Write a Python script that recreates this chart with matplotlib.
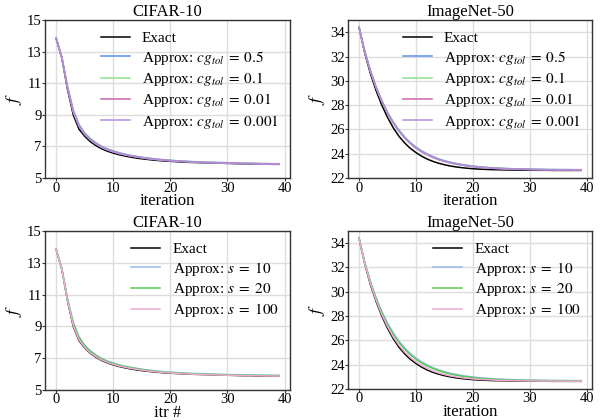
import matplotlib
matplotlib.use("Agg")
import matplotlib.pyplot as plt
import numpy as np

iters = list(range(40))

cifar_exact = [13.85, 12.6, 10.6, 9.0, 8.1, 7.65, 7.3, 7.05, 6.85, 6.7, 6.58, 6.48, 6.4, 6.33, 6.27,
               6.22, 6.18, 6.14, 6.11, 6.08, 6.06, 6.04, 6.02, 6.0, 5.99, 5.98, 5.97, 5.96, 5.95, 5.94,
               5.93, 5.92, 5.91, 5.9, 5.9, 5.89, 5.88, 5.88, 5.87, 5.87]
cifar_cg_05 = [13.85, 12.65, 10.8, 9.3, 8.4, 7.85, 7.5, 7.22, 7.0, 6.84, 6.72, 6.61, 6.52, 6.44, 6.38,
               6.32, 6.27, 6.23, 6.19, 6.16, 6.13, 6.1, 6.08, 6.06, 6.04, 6.03, 6.01, 6.0, 5.99, 5.98,
               5.97, 5.96, 5.95, 5.94, 5.94, 5.93, 5.92, 5.92, 5.91, 5.91]
cifar_cg_01 = [13.85, 12.64, 10.75, 9.25, 8.35, 7.8, 7.46, 7.19, 6.97, 6.81, 6.69, 6.58, 6.5, 6.42, 6.36,
               6.3, 6.25, 6.21, 6.17, 6.14, 6.11, 6.09, 6.07, 6.05, 6.03, 6.02, 6.0, 5.99, 5.98, 5.97,
               5.96, 5.95, 5.94, 5.93, 5.93, 5.92, 5.91, 5.91, 5.9, 5.9]
cifar_cg_001 = [13.85, 12.63, 10.72, 9.2, 8.3, 7.78, 7.43, 7.16, 6.95, 6.79, 6.67, 6.56, 6.48, 6.41, 6.35,
                6.29, 6.24, 6.2, 6.16, 6.13, 6.1, 6.08, 6.06, 6.04, 6.02, 6.01, 5.99, 5.98, 5.97, 5.96,
                5.95, 5.94, 5.93, 5.92, 5.92, 5.91, 5.9, 5.9, 5.89, 5.89]
cifar_cg_0001 = [13.85, 12.63, 10.7, 9.18, 8.28, 7.76, 7.41, 7.15, 6.94, 6.78, 6.66, 6.55, 6.47, 6.4, 6.34,
                 6.28, 6.23, 6.19, 6.15, 6.12, 6.09, 6.07, 6.05, 6.03, 6.01, 6.0, 5.98, 5.97, 5.96, 5.95,
                 5.94, 5.93, 5.92, 5.91, 5.91, 5.9, 5.89, 5.89, 5.88, 5.88]

imnet_exact = [34.4, 32.3, 30.6, 29.2, 28.0, 27.0, 26.15, 25.45, 24.9, 24.45, 24.1, 23.8, 23.56, 23.37,
               23.22, 23.1, 23.0, 22.92, 22.86, 22.81, 22.77, 22.74, 22.72, 22.7, 22.69, 22.68, 22.67,
               22.66, 22.66, 22.65, 22.65, 22.64, 22.64, 22.64, 22.63, 22.63, 22.63, 22.63, 22.63, 22.63]
imnet_cg_05 = [34.4, 32.45, 30.85, 29.5, 28.38, 27.42, 26.62, 25.95, 25.39, 24.93, 24.55, 24.24, 23.98,
               23.76, 23.58, 23.43, 23.31, 23.21, 23.12, 23.05, 22.99, 22.94, 22.9, 22.86, 22.83, 22.81,
               22.79, 22.77, 22.76, 22.75, 22.74, 22.73, 22.72, 22.71, 22.71, 22.7, 22.7, 22.7, 22.69, 22.69]
imnet_cg_01 = [34.4, 32.43, 30.82, 29.47, 28.34, 27.38, 26.58, 25.91, 25.35, 24.89, 24.51, 24.2, 23.94,
               23.73, 23.55, 23.4, 23.28, 23.18, 23.1, 23.03, 22.97, 22.92, 22.88, 22.84, 22.81, 22.79,
               22.77, 22.75, 22.74, 22.73, 22.72, 22.71, 22.7, 22.7, 22.69, 22.69, 22.68, 22.68, 22.68, 22.68]
imnet_cg_001 = [34.4, 32.42, 30.8, 29.45, 28.32, 27.36, 26.55, 25.88, 25.32, 24.86, 24.48, 24.17, 23.92,
                23.71, 23.53, 23.38, 23.26, 23.16, 23.08, 23.01, 22.95, 22.9, 22.86, 22.83, 22.8, 22.78,
                22.76, 22.74, 22.73, 22.72, 22.71, 22.7, 22.69, 22.69, 22.68, 22.68, 22.67, 22.67, 22.67, 22.67]
imnet_cg_0001 = [34.4, 32.41, 30.79, 29.44, 28.3, 27.34, 26.53, 25.86, 25.3, 24.84, 24.46, 24.15, 23.9,
                 23.69, 23.51, 23.37, 23.25, 23.15, 23.07, 23.0, 22.94, 22.89, 22.85, 22.82, 22.79, 22.77,
                 22.75, 22.73, 22.72, 22.71, 22.7, 22.69, 22.69, 22.68, 22.68, 22.67, 22.67, 22.67, 22.66, 22.66]

cifar_s10 = [13.85, 12.64, 10.75, 9.25, 8.35, 7.82, 7.47, 7.2, 6.98, 6.82, 6.7, 6.59, 6.5, 6.43, 6.37,
             6.31, 6.26, 6.22, 6.18, 6.15, 6.12, 6.1, 6.08, 6.06, 6.04, 6.03, 6.02, 6.0, 5.99, 5.98,
             5.97, 5.96, 5.96, 5.95, 5.94, 5.94, 5.93, 5.93, 5.92, 5.92]
cifar_s20 = [13.85, 12.63, 10.7, 9.2, 8.3, 7.78, 7.43, 7.16, 6.95, 6.79, 6.67, 6.56, 6.48, 6.41, 6.35,
             6.29, 6.24, 6.2, 6.16, 6.13, 6.1, 6.08, 6.06, 6.04, 6.02, 6.01, 6.0, 5.99, 5.98, 5.97,
             5.96, 5.95, 5.95, 5.94, 5.93, 5.93, 5.92, 5.92, 5.91, 5.91]
cifar_s100 = [13.85, 12.61, 10.62, 9.05, 8.15, 7.68, 7.33, 7.08, 6.88, 6.73, 6.61, 6.51, 6.43, 6.36, 6.3,
              6.25, 6.2, 6.16, 6.13, 6.1, 6.07, 6.05, 6.03, 6.01, 6.0, 5.98, 5.97, 5.96, 5.95, 5.94,
              5.93, 5.92, 5.92, 5.91, 5.9, 5.9, 5.89, 5.88, 5.88, 5.87]

imnet_s10 = [34.4, 32.45, 30.85, 29.5, 28.38, 27.42, 26.62, 25.95, 25.39, 24.93, 24.55, 24.24, 23.98,
             23.76, 23.58, 23.43, 23.31, 23.21, 23.12, 23.05, 22.99, 22.94, 22.9, 22.86, 22.83, 22.81,
             22.79, 22.77, 22.76, 22.75, 22.74, 22.73, 22.72, 22.71, 22.71, 22.7, 22.7, 22.7, 22.69, 22.69]
imnet_s20 = [34.4, 32.42, 30.8, 29.44, 28.3, 27.33, 26.52, 25.85, 25.29, 24.83, 24.45, 24.14, 23.89,
             23.68, 23.5, 23.36, 23.24, 23.14, 23.06, 22.99, 22.94, 22.89, 22.85, 22.82, 22.79, 22.77,
             22.75, 22.74, 22.72, 22.71, 22.7, 22.7, 22.69, 22.69, 22.68, 22.68, 22.68, 22.67, 22.67, 22.67]
imnet_s100 = [34.4, 32.35, 30.68, 29.3, 28.12, 27.14, 26.3, 25.61, 25.05, 24.6, 24.23, 23.93, 23.68,
              23.48, 23.32, 23.19, 23.08, 23.0, 22.93, 22.88, 22.83, 22.8, 22.77, 22.75, 22.73, 22.71,
              22.7, 22.69, 22.68, 22.67, 22.66, 22.66, 22.65, 22.65, 22.65, 22.64, 22.64, 22.64, 22.64, 22.64]

cg_labels = [r"Approx: $cg_{tol}\;=\;0.5$", r"Approx: $cg_{tol}\;=\;0.1$",
             r"Approx: $cg_{tol}\;=\;0.01$", r"Approx: $cg_{tol}\;=\;0.001$"]
s_labels = [r"Approx: $s\;=\;10$", r"Approx: $s\;=\;20$", r"Approx: $s\;=\;100$"]

cg_colors = ["#5b8ee6", "#8fdf8f", "#cc66aa", "#b090dc"]
s_colors = ["#9bb8ea", "#55cc55", "#eeaad0"]

plt.rcParams["font.family"] = ["Liberation Serif", "DejaVu Serif"]
plt.rcParams["mathtext.fontset"] = "stix"

fig = plt.figure(figsize=(6.03, 4.2), dpi=100)

positions = [
    [0.0746, 0.576, 0.4064, 0.376],
    [0.577, 0.576, 0.405, 0.376],
    [0.0746, 0.0714, 0.4064, 0.3786],
    [0.577, 0.0738, 0.405, 0.3762],
]

panels = [
    ("CIFAR-10", "iteration", cifar_exact, [cifar_cg_05, cifar_cg_01, cifar_cg_001, cifar_cg_0001],
     cg_labels, cg_colors, (5, 15), [5, 7, 9, 11, 13, 15]),
    ("ImageNet-50", "iteration", imnet_exact, [imnet_cg_05, imnet_cg_01, imnet_cg_001, imnet_cg_0001],
     cg_labels, cg_colors, (22, 35), [22, 24, 26, 28, 30, 32, 34]),
    ("CIFAR-10", "itr #", cifar_exact, [cifar_s10, cifar_s20, cifar_s100],
     s_labels, s_colors, (5, 15), [5, 7, 9, 11, 13, 15]),
    ("ImageNet-50", "iteration", imnet_exact, [imnet_s10, imnet_s20, imnet_s100],
     s_labels, s_colors, (22, 35), [22, 24, 26, 28, 30, 32, 34]),
]

for pos, (title, xlabel, exact, approx, labels, colors, ylim, yticks) in zip(positions, panels):
    ax = fig.add_axes(pos)
    ax.plot(iters, exact, color="black", lw=1.1, label="Exact")
    for vals, lab, col in zip(approx, labels, colors):
        ax.plot(iters, vals, color=col, lw=1.1, label=lab)
    ax.set_ylim(*ylim)
    ax.set_yticks(yticks)
    ax.set_xticks([0, 10, 20, 30, 40])
    ax.set_xlim(-1.95, 40.95)
    ax.grid(True, color="#dddddd", lw=1.0)
    ax.set_axisbelow(True)
    for sp in ax.spines.values():
        sp.set_color("#333333")
        sp.set_linewidth(1.0)
    ax.tick_params(labelsize=10.5, length=2, width=0.8, color="#333333", pad=0.5)
    ax.set_title(title, fontsize=12, pad=1)
    ax.set_xlabel(xlabel, fontsize=12, labelpad=-1)
    ax.set_ylabel(r"$f$", fontsize=13, labelpad=2)
    ax.legend(loc="upper right", frameon=False, fontsize=11, handlelength=1.9,
              handletextpad=0.8, labelspacing=0.22, borderaxespad=0.35)

fig.savefig("out.png", dpi=100)
